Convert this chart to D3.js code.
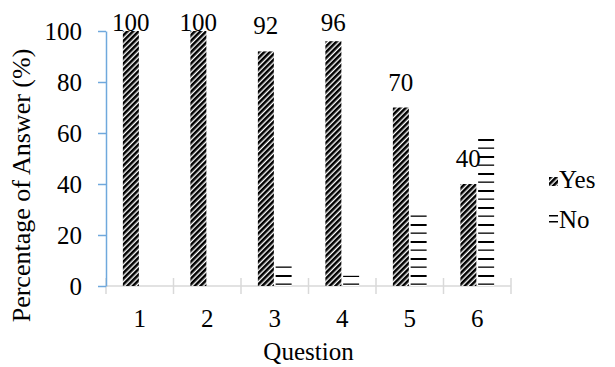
<!DOCTYPE html>
<html>
<head>
<meta charset="utf-8">
<script src="https://cdn.jsdelivr.net/npm/d3@7"></script>
<style>
  body { margin: 0; background: #fff; }
</style>
</head>
<body>
<svg id="chart" width="615" height="367"></svg>
<script>
// Survey answers per question (percent)
const questions = ["1", "2", "3", "4", "5", "6"];
const yesValues = [100, 100, 92, 96, 70, 40];
const noValues = [0, 0, 8, 4, 30, 60];
const seriesNames = ["Yes", "No"];
const yTicks = [0, 20, 40, 60, 80, 100];

const svg = d3.select("#chart");
const fontSize = 25;
const serif = "'Liberation Serif', 'Times New Roman', Times, 'DejaVu Serif', serif";

const plot = { left: 106, right: 511, top: 31, bottom: 286 };

const x = d3.scaleBand().domain(questions).range([plot.left, plot.right]).padding(0);
const bw = x.bandwidth();
const xs = d3.scaleBand().domain(seriesNames).range([bw * 0.25, bw * 0.75]).paddingInner(0.1);
const y = d3.scaleLinear().domain([0, 100]).range([plot.bottom, plot.top]);

function styleText(sel) {
  return sel.style("font-family", serif).style("font-size", fontSize + "px").style("fill", "#000");
}

// Fill patterns
const defs = svg.append("defs");
const diag = defs.append("pattern")
  .attr("id", "hatchYes").attr("patternUnits", "userSpaceOnUse")
  .attr("width", 4).attr("height", 4)
  .attr("patternTransform", "rotate(45)");
diag.append("rect").attr("width", 4).attr("height", 4).attr("fill", "#fff");
diag.append("rect").attr("x", 0).attr("width", 2.6).attr("height", 4).attr("fill", "#000");

const horiz = defs.append("pattern")
  .attr("id", "hatchNo").attr("patternUnits", "userSpaceOnUse")
  .attr("width", 8).attr("height", 17);
horiz.append("rect").attr("width", 8).attr("height", 17).attr("fill", "#fff");
horiz.append("rect").attr("y", 3).attr("width", 8).attr("height", 2).attr("fill", "#000");
horiz.append("rect").attr("y", 11.5).attr("width", 8).attr("height", 1.3).attr("fill", "#000");

const rows = questions.map((q, i) => ({ q, Yes: yesValues[i], No: noValues[i] }));

// X axis line and category separators
svg.append("line")
  .attr("x1", plot.left).attr("x2", plot.right)
  .attr("y1", y(0)).attr("y2", y(0))
  .attr("stroke", "#d9d9d9").attr("stroke-width", 1.5);
const bounds = questions.map(q => x(q)).concat([x(questions[questions.length - 1]) + bw]);
svg.append("g").selectAll("line").data(bounds).join("line")
  .attr("x1", d => d).attr("x2", d => d)
  .attr("y1", y(0) - 8).attr("y2", y(0) + 8)
  .attr("stroke", "#d9d9d9").attr("stroke-width", 1.5);

// Bars
const groups = svg.append("g").selectAll("g").data(rows).join("g")
  .attr("transform", d => `translate(${x(d.q)},0)`);
groups.selectAll("rect").data(d => seriesNames.map(s => ({ s, v: d[s] }))).join("rect")
  .attr("x", d => xs(d.s))
  .attr("width", xs.bandwidth())
  .attr("y", d => y(d.v))
  .attr("height", d => y(0) - y(d.v))
  .attr("fill", d => d.s === "Yes" ? "url(#hatchYes)" : "url(#hatchNo)");

// Value labels over the Yes bars
styleText(groups.append("text")
  .attr("x", xs("Yes") + xs.bandwidth() / 2)
  .attr("y", d => Math.max(y(d.Yes) - 17, 31))
  .attr("text-anchor", "middle")
  .text(d => d.Yes));

// Y axis
const yAxis = svg.append("g")
  .attr("transform", `translate(${plot.left},0)`)
  .call(d3.axisLeft(y).tickValues(yTicks).tickSize(8).tickSizeOuter(0).tickPadding(16));
yAxis.attr("font-family", null).attr("font-size", null);
yAxis.select(".domain").attr("stroke", "#6fa8dc").attr("stroke-width", 1.5);
yAxis.selectAll(".tick line").attr("stroke", "#6fa8dc").attr("stroke-width", 1.5);
styleText(yAxis.selectAll(".tick text"));

// X tick labels
const xAxis = svg.append("g")
  .attr("transform", `translate(0,${y(0)})`)
  .call(d3.axisBottom(x).tickSize(0));
xAxis.attr("font-family", null).attr("font-size", null);
xAxis.select(".domain").remove();
styleText(xAxis.selectAll(".tick text")).attr("y", 41).attr("dy", 0);

// Axis titles
styleText(svg.append("text")
  .attr("x", (plot.left + plot.right) / 2).attr("y", 360)
  .attr("text-anchor", "middle")
  .text("Question"));
styleText(svg.append("text")
  .attr("transform", `translate(30,${(plot.top + plot.bottom) / 2 + 27}) rotate(-90)`)
  .attr("text-anchor", "middle")
  .text("Percentage of Answer (%)"))
  .style("font-size", "26px");

// Legend
const legend = svg.append("g").selectAll("g").data(seriesNames).join("g")
  .attr("transform", (d, i) => `translate(549,${177 + i * 40})`);
legend.filter(d => d === "Yes").append("rect")
  .attr("width", 9).attr("height", 9)
  .attr("fill", "url(#hatchYes)");
const noKey = legend.filter(d => d === "No");
noKey.append("rect").attr("x", 0).attr("y", -2).attr("width", 9).attr("height", 1.5).attr("fill", "#000");
noKey.append("rect").attr("x", 0).attr("y", 4).attr("width", 9).attr("height", 1.5).attr("fill", "#000");
styleText(legend.append("text")
  .attr("x", 10).attr("y", 11)
  .text(d => d));
</script>
</body>
</html>
